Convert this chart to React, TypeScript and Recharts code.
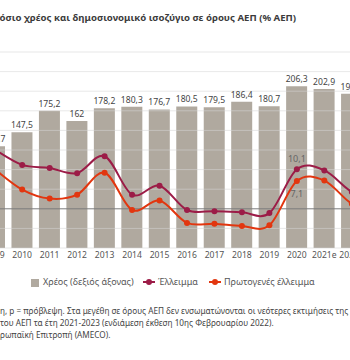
import { ComposedChart, Bar, Line, XAxis, YAxis, ReferenceLine, LabelList } from 'recharts'

const years = ['2009', '2010', '2011', '2012', '2013', '2014', '2015', '2016', '2017', '2018', '2019', '2020', '2021e', '2022p', '2023p']
const debt = [129.7, 147.5, 175.2, 162, 178.2, 180.3, 176.7, 180.5, 179.5, 186.4, 180.7, 206.3, 202.9, 196.9, 191.1]
const deficit = [15.1, 11.2, 10.4, 9.1, 13.4, 3.6, 5.9, -0.3, -0.6, -0.9, -1.1, 10.1, 9.8, 4.3, 1.5]
const primary = [10.1, 4.9, 2.6, 3.6, 9.2, -0.3, 2.1, -3.6, -3.8, -4.4, -4.2, 7.1, 7.2, 1.3, -0.8]
const noteYear = '2020'
const leftTicks = [-10, -5, 0, 5, 10, 15, 20, 25, 30, 35, 40]
const rightTicks = [0, 25, 50, 75, 100, 125, 150, 175, 200, 225, 250]

const data = years.map((year, i) => ({
  year,
  debt: debt[i],
  deficit: deficit[i],
  primary: primary[i],
  deficitNote: year === noteYear ? deficit[i] : null,
  primaryNote: year === noteYear ? primary[i] : null,
}))

const BAR = '#b0a99f'
const DEF = '#9c1c47'
const PRIM = '#e2360f'
const FONT = '"Noto Sans", sans-serif'

const comma = (v: any) => (v == null ? '' : String(v).replace('.', ','))

// excel-like smoothing (catmull-rom), it overshoots a bit between points like the original
function smooth(ctx: any) {
  let pts: number[][] = []
  return {
    areaStart() {},
    areaEnd() {},
    lineStart() { pts = [] },
    point(x: number, y: number) { pts.push([+x, +y]) },
    lineEnd() {
      if (!pts.length) return
      ctx.moveTo(pts[0][0], pts[0][1])
      const t = 1 / 6
      for (let i = 0; i < pts.length - 1; i++) {
        const p0 = pts[i - 1] || pts[i]
        const p1 = pts[i]
        const p2 = pts[i + 1]
        const p3 = pts[i + 2] || p2
        ctx.bezierCurveTo(
          p1[0] + (p2[0] - p0[0]) * t, p1[1] + (p2[1] - p0[1]) * t,
          p2[0] - (p3[0] - p1[0]) * t, p2[1] - (p3[1] - p1[1]) * t,
          p2[0], p2[1],
        )
      }
    },
  }
}

function LineMark({ color }: { color: string }) {
  return (
    <svg width={12} height={8} style={{ position: 'absolute', left: -15, top: 2 }}>
      <line x1={0} y1={4} x2={12} y2={4} stroke={color} strokeWidth={2} />
      <circle cx={6} cy={4} r={3} fill={color} />
    </svg>
  )
}

export default function App() {
  const legendText = { position: 'absolute' as const, top: 276, fontSize: 9, color: '#555', whiteSpace: 'nowrap' as const, lineHeight: '12px' }
  const noteLine = { position: 'absolute' as const, left: 0, fontSize: 8.2, color: '#444', whiteSpace: 'nowrap' as const, lineHeight: '12px' }
  return (
    <div style={{ position: 'fixed', left: 0, top: 0, width: 350, height: 360, overflow: 'hidden', background: '#fff', fontFamily: FONT }}>
      <div style={{ position: 'absolute', left: -19.5, top: 11, fontSize: 9.6, fontWeight: 700, color: '#3b3b3b', whiteSpace: 'nowrap' }}>
        Δημόσιο χρέος και δημοσιονομικό ισοζύγιο σε όρους ΑΕΠ (% ΑΕΠ)
      </div>

      <div style={{ position: 'absolute', left: -18.7, top: 42 }}>
        <ComposedChart width={412} height={226} data={data} margin={{ top: 10, right: 0, bottom: 0, left: 0 }}>
          <XAxis
            dataKey="year"
            interval={0}
            tickLine={false}
            axisLine={false}
            tickSize={0}
            tickMargin={4}
            height={20}
            tick={{ fill: '#555', fontSize: 8.6, fontFamily: FONT }}
          />
          <YAxis yAxisId="left" domain={[-10, 40]} ticks={leftTicks} hide />
          <YAxis yAxisId="right" orientation="right" domain={[0, 250]} ticks={rightTicks} hide />
          <Bar yAxisId="right" dataKey="debt" fill={BAR} barSize={21} isAnimationActive={false}>
            <LabelList dataKey="debt" position="top" offset={4} formatter={comma} style={{ fill: '#444', fontSize: 8.6, fontFamily: FONT }} />
          </Bar>
          {leftTicks.map((t) => (
            <ReferenceLine key={t} yAxisId="left" y={t} stroke="#d6d6d6" strokeOpacity={t === 0 ? 0 : 0.55} />
          ))}
          <ReferenceLine yAxisId="left" y={0} stroke="#7d7d7d" strokeWidth={1} />
          <Line
            yAxisId="left"
            dataKey="deficit"
            type={smooth as any}
            stroke={DEF}
            strokeWidth={2}
            dot={{ r: 3, fill: DEF, stroke: DEF, strokeWidth: 0 }}
            isAnimationActive={false}
          >
            <LabelList dataKey="deficitNote" position="top" offset={7} formatter={comma} style={{ fill: '#666', fontSize: 9, fontFamily: FONT }} />
          </Line>
          <Line
            yAxisId="left"
            dataKey="primary"
            type={smooth as any}
            stroke={PRIM}
            strokeWidth={2}
            dot={{ r: 3, fill: PRIM, stroke: PRIM, strokeWidth: 0 }}
            isAnimationActive={false}
          >
            <LabelList dataKey="primaryNote" position="bottom" offset={10} formatter={comma} style={{ fill: '#666', fontSize: 9, fontFamily: FONT }} />
          </Line>
        </ComposedChart>
      </div>

      <div style={{ position: 'absolute', left: 31, top: 279, width: 8, height: 8, background: BAR }} />
      <div style={{ ...legendText, left: 43 }}>Χρέος (δεξιός άξονας)</div>
      <div style={{ ...legendText, left: 158 }}><LineMark color={DEF} />Έλλειμμα</div>
      <div style={{ ...legendText, left: 224 }}><LineMark color={PRIM} />Πρωτογενές έλλειμμα</div>

      <div style={{ ...noteLine, top: 305 }}>η, p = πρόβλεψη. Στα μεγέθη σε όρους ΑΕΠ δεν ενσωματώνονται οι νεότερες εκτιμήσεις της Ευρωπαϊκής</div>
      <div style={{ ...noteLine, top: 317 }}>του ΑΕΠ τα έτη 2021-2023 (ενδιάμεση έκθεση 10ης Φεβρουαρίου 2022).</div>
      <div style={{ ...noteLine, top: 329 }}>ρωπαϊκή Επιτροπή (AMECO).</div>
    </div>
  )
}
